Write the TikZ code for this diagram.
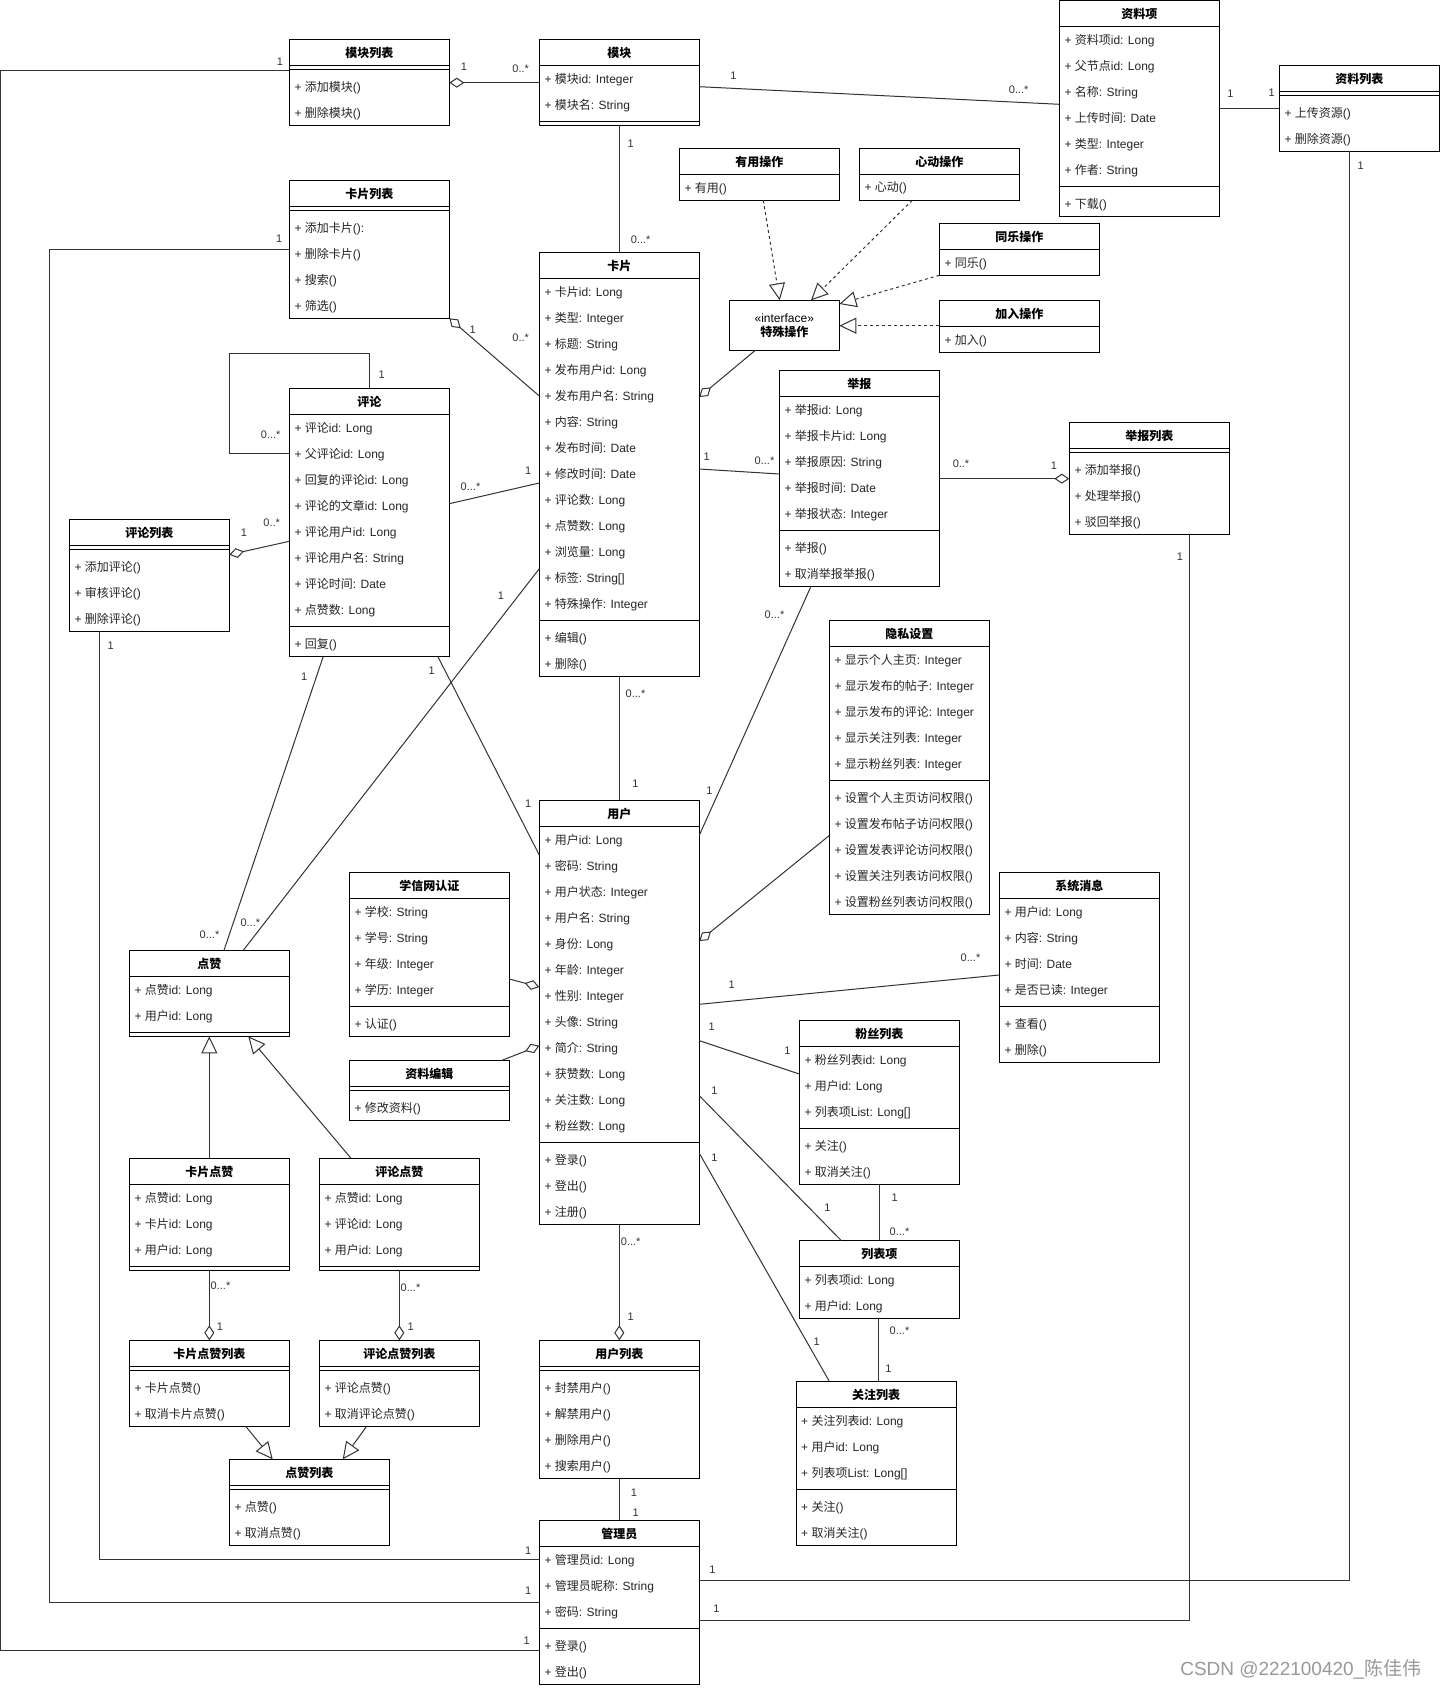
\documentclass[tikz,border=0pt]{standalone}
\usepackage{fontspec}
\setmainfont{Liberation Sans}
\newfontfamily\cjkfam{Noto Sans CJK SC}
\usetikzlibrary{arrows.meta,calc}
\XeTeXinterchartokenstate=1
\newXeTeXintercharclass\CJKcls
\newcount\cjkc
\def\setcjkrange#1#2{\cjkc=#1\relax\loop\XeTeXcharclass\cjkc=\CJKcls\relax\ifnum\cjkc<#2\relax\advance\cjkc by 1\relax\repeat}
\setcjkrange{"3000}{"303F}
\setcjkrange{"4E00}{"9FFF}
\setcjkrange{"FF00}{"FFEF}
\XeTeXinterchartoks 0 \CJKcls={\cjkfam}
\XeTeXinterchartoks 4095 \CJKcls={\cjkfam}
\XeTeXinterchartoks \CJKcls 0={\rmfamily}
\XeTeXinterchartoks \CJKcls 4095={\rmfamily}

\newcommand\cntlist[2]{\def\tmpl{#1}\ifx\tmpl\empty\gdef#2{0}\else\foreach \q [count=\qi] in {#1} {\xdef#2{\qi}}\fi}

\tikzset{
 umlbox/.style={draw, line width=1pt, fill=white, minimum width=160pt, inner sep=0pt, outer sep=0pt},
 boxline/.style={line width=1pt},
 umltitle/.style={font=\bfseries\fontsize{12}{14}\selectfont, inner sep=0pt},
 umlrow/.style={anchor=west, font=\fontsize{12}{14}\selectfont, inner sep=0pt, text=black!85},
 conn/.style={line width=1pt, draw=black!80},
 agg/.style={conn, -{Diamond[open, length=15pt, width=10pt]}},
 gen/.style={conn, -{Triangle[open, length=17pt, width=16pt]}},
 real/.style={conn, dash pattern=on 3pt off 3pt, -{Triangle[open, length=17pt, width=16pt]}},
 lbl/.style={font=\fontsize{11}{13}\selectfont, inner sep=0pt, text=black!80},
}

\newcommand\umlclass[7]{%
  \cntlist{#5}{\na}\cntlist{#6}{\nm}%
  \pgfmathsetmacro\hh{26+26*\na+8*#7+26*\nm}%
  \node[umlbox, minimum height=\hh pt, anchor=north west] (#1) at (#2,#3) {};
  \node[umltitle] (#1-t) at ($(#1.north)+(0,14)$) {#4};
  \draw[boxline] ($(#1.north west)+(0,26)$) -- ($(#1.north east)+(0,26)$);
  \ifnum#7=1\relax
    \pgfmathsetmacro\sy{26+26*\na+4}%
    \draw[boxline] ($(#1.north west)+(0,\sy)$) -- ($(#1.north east)+(0,\sy)$);
  \fi
  \ifnum\na>0\relax
   \foreach \itm [count=\ii] in {#5} {\node[umlrow] (#1-a\ii) at ($(#1.north west)+(5,26*\ii+14)$) {+ \itm};}%
  \fi
  \ifnum\nm>0\relax
   \pgfmathsetmacro\my{26+26*\na+8*#7}%
   \foreach \itm [count=\ii] in {#6} {\node[umlrow] (#1-m\ii) at ($(#1.north west)+(5,\my+26*\ii-12)$) {+ \itm};}%
  \fi
}
\newcount\lblc
\newcommand\lbl[3]{\global\advance\lblc by 1\relax\node[lbl] (lbl\the\lblc) at (#1,#2) {#3};}

\begin{document}
\begin{tikzpicture}[x=1pt,y=-1pt]
\fill[white] (0,0) rectangle (1440,1688);
\useasboundingbox (0,0) rectangle (1440,1688);

\umlclass{mlist}{289.3}{39.3}{模块列表}{}{添加模块(),删除模块()}{1}
\umlclass{module}{539.3}{39.3}{模块}{模块id: Integer,模块名: String}{}{1}
\umlclass{item}{1059.3}{0.3}{资料项}{资料项id: Long,父节点id: Long,名称: String,上传时间: Date,类型: Integer,作者: String}{下载()}{1}
\umlclass{rlist}{1279.3}{65.3}{资料列表}{}{上传资源(),删除资源()}{1}
\umlclass{clist}{289.3}{180.3}{卡片列表}{}{添加卡片():,删除卡片(),搜索(),筛选()}{1}
\umlclass{card}{539.3}{252.3}{卡片}{卡片id: Long,类型: Integer,标题: String,发布用户id: Long,发布用户名: String,内容: String,发布时间: Date,修改时间: Date,评论数: Long,点赞数: Long,浏览量: Long,标签: String[],特殊操作: Integer}{编辑(),删除()}{1}
\umlclass{useful}{679.3}{148.3}{有用操作}{有用()}{}{0}
\umlclass{heart}{859.3}{148.3}{心动操作}{心动()}{}{0}
\umlclass{joy}{939.3}{223.3}{同乐操作}{同乐()}{}{0}
\umlclass{joinop}{939.3}{300.3}{加入操作}{加入()}{}{0}
\node[draw, line width=1pt, fill=white, minimum width=110pt, minimum height=50pt, inner sep=0pt, outer sep=0pt, anchor=north west, align=center, font=\fontsize{12}{14}\selectfont] (iface) at (729.3,300.3) {«interface»\\\textbf{特殊操作}};
\umlclass{comment}{289.3}{388.3}{评论}{评论id: Long,父评论id: Long,回复的评论id: Long,评论的文章id: Long,评论用户id: Long,评论用户名: String,评论时间: Date,点赞数: Long}{回复()}{1}
\umlclass{report}{779.3}{370.3}{举报}{举报id: Long,举报卡片id: Long,举报原因: String,举报时间: Date,举报状态: Integer}{举报(),取消举报举报()}{1}
\umlclass{replist}{1069.3}{422.3}{举报列表}{}{添加举报(),处理举报(),驳回举报()}{1}
\umlclass{cmtlist}{69.3}{519.3}{评论列表}{}{添加评论(),审核评论(),删除评论()}{1}
\umlclass{privacy}{829.3}{620.3}{隐私设置}{显示个人主页: Integer,显示发布的帖子: Integer,显示发布的评论: Integer,显示关注列表: Integer,显示粉丝列表: Integer}{设置个人主页访问权限(),设置发布帖子访问权限(),设置发表评论访问权限(),设置关注列表访问权限(),设置粉丝列表访问权限()}{1}
\umlclass{user}{539.3}{800.3}{用户}{用户id: Long,密码: String,用户状态: Integer,用户名: String,身份: Long,年龄: Integer,性别: Integer,头像: String,简介: String,获赞数: Long,关注数: Long,粉丝数: Long}{登录(),登出(),注册()}{1}
\umlclass{like}{129.3}{950.3}{点赞}{点赞id: Long,用户id: Long}{}{1}
\umlclass{xuexin}{349.3}{872.3}{学信网认证}{学校: String,学号: String,年级: Integer,学历: Integer}{认证()}{1}
\umlclass{edit}{349.3}{1060.3}{资料编辑}{}{修改资料()}{1}
\umlclass{sysmsg}{999.3}{872.3}{系统消息}{用户id: Long,内容: String,时间: Date,是否已读: Integer}{查看(),删除()}{1}
\umlclass{fans}{799.3}{1020.3}{粉丝列表}{粉丝列表id: Long,用户id: Long,列表项List: Long[]}{关注(),取消关注()}{1}
\umlclass{cardlike}{129.3}{1158.3}{卡片点赞}{点赞id: Long,卡片id: Long,用户id: Long}{}{1}
\umlclass{cmtlike}{319.3}{1158.3}{评论点赞}{点赞id: Long,评论id: Long,用户id: Long}{}{1}
\umlclass{listitem}{799.3}{1240.3}{列表项}{列表项id: Long,用户id: Long}{}{0}
\umlclass{follow}{796}{1381.3}{关注列表}{关注列表id: Long,用户id: Long,列表项List: Long[]}{关注(),取消关注()}{1}
\umlclass{ulist}{539.3}{1340.3}{用户列表}{}{封禁用户(),解禁用户(),删除用户(),搜索用户()}{1}
\umlclass{cardlikelist}{129.3}{1340.3}{卡片点赞列表}{}{卡片点赞(),取消卡片点赞()}{1}
\umlclass{cmtlikelist}{319.3}{1340.3}{评论点赞列表}{}{评论点赞(),取消评论点赞()}{1}
\umlclass{likelist}{229.3}{1459.3}{点赞列表}{}{点赞(),取消点赞()}{1}
\umlclass{admin}{539.3}{1520.3}{管理员}{管理员id: Long,管理员昵称: String,密码: String}{登录(),登出()}{1}

% connectors
\draw[agg] (module.west |- 0,82.7) -- (mlist.east |- 0,82.7);
\draw[conn] (module.east |- 0,86.7) -- (item.west |- 0,104.3);
\draw[conn] (module.south) -- (card.north);
\draw[conn] (item.east |- 0,108.3) -- (rlist.west |- 0,108.3);
\draw[agg] (card.west |- 0,396) -- (clist.south east);
\draw[conn] (comment.north -| 369.3,0) -- (369.3,353.3) -- (229.3,353.3) -- (229.3,453) -- (comment.west |- 0,453);
\draw[agg] (comment.west |- 0,541.3) -- (cmtlist.east |- 0,554.7);
\draw[conn] (comment.east |- 0,503.7) -- (card.west |- 0,483);
\draw[agg] (iface.south -| 755.3,0) -- (card.east |- 0,397);
\draw[real] (useful.south -| 763.3,0) -- (iface.north -| 779.7,0);
\draw[real] (heart.south -| 912.3,0) -- (iface.north -| 811,0);
\draw[real] (joy.south west) -- (iface.east |- 0,304);
\draw[real] (joinop.west |- 0,325.7) -- (iface.east |- 0,325.7);
\draw[conn] (card.east |- 0,469) -- (report.west |- 0,474);
\draw[agg] (report.east |- 0,478.7) -- (replist.west |- 0,478.7);
\draw[conn] (report.south -| 811,0) -- (user.east |- 0,835.3);
\draw[conn] (card.south) -- (user.north);
\draw[conn] (comment.south -| 323.3,0) -- (like.north -| 224,0);
\draw[conn] (card.west |- 0,568.7) -- (like.north -| 243.3,0);
\draw[conn] (comment.south -| 437.7,0) -- (user.west |- 0,855);
\draw[agg] (privacy.west |- 0,835.5) -- (user.east |- 0,941);
\draw[agg] (xuexin.east |- 0,979) -- (user.west |- 0,987);
\draw[agg] (edit.north -| 502,0) -- (user.west |- 0,1045.7);
\draw[conn] (user.east |- 0,1004.3) -- (sysmsg.west |- 0,975);
\draw[conn] (user.east |- 0,1040.7) -- (fans.west |- 0,1074);
\draw[conn] (user.east |- 0,1095.7) -- (listitem.north -| 841,0);
\draw[conn] (user.east |- 0,1153.3) -- (follow.north -| 829.3,0);
\draw[conn] (fans.south) -- (listitem.north);
\draw[conn] (listitem.south -| 878.3,0) -- (follow.north -| 878.3,0);
\draw[agg] (user.south) -- (ulist.north);
\draw[conn] (ulist.south) -- (admin.north);
\draw[conn] (cmtlist.south -| 99.3,0) |- (admin.west |- 0,1559.3);
\draw[conn] (clist.west |- 0,249.3) -- (49.3,249.3) |- (admin.west |- 0,1602.3);
\draw[conn] (mlist.west |- 0,70.3) -- (0.7,70.3) |- (admin.west |- 0,1650.3);
\draw[conn] (rlist.south -| 1349.3,0) |- (admin.east |- 0,1580);
\draw[conn] (replist.south -| 1189.3,0) |- (admin.east |- 0,1620.3);
\draw[gen] (cardlike.north) -- (like.south);
\draw[gen] (cmtlike.north -| 351,0) -- (like.south -| 248.3,0);
\draw[agg] (cardlike.south) -- (cardlikelist.north);
\draw[agg] (cmtlike.south) -- (cmtlikelist.north);
\draw[gen] (cardlikelist.south -| 245.7,0) -- (likelist.north -| 272.7,0);
\draw[gen] (cmtlikelist.south -| 366.7,0) -- (likelist.north -| 342.7,0);

% multiplicity labels
\lbl{464}{66.3}{1} \lbl{520.7}{69}{0..*}
\lbl{733.3}{75.3}{1} \lbl{1018.7}{90}{0...*}
\lbl{630.7}{143.3}{1} \lbl{640.7}{240}{0...*}
\lbl{1230.3}{93.3}{1} \lbl{1271.7}{92.3}{1}
\lbl{472.7}{329.3}{1} \lbl{520.7}{337.7}{0..*}
\lbl{381.7}{374.3}{1} \lbl{270.7}{434.3}{0...*}
\lbl{244}{533}{1} \lbl{271.7}{523}{0..*}
\lbl{470.5}{487}{0...*} \lbl{528.3}{470.3}{1}
\lbl{706.7}{457}{1} \lbl{764.5}{460.3}{0...*}
\lbl{961}{464}{0..*} \lbl{1054}{466}{1}
\lbl{774.5}{614.3}{0...*} \lbl{709.3}{790.3}{1}
\lbl{635.5}{693.3}{0...*} \lbl{635.3}{784}{1}
\lbl{304.3}{676.3}{1} \lbl{209.5}{935}{0...*}
\lbl{501}{595.3}{1} \lbl{250.3}{922.7}{0...*}
\lbl{431.7}{670.3}{1} \lbl{528.3}{804}{1}
\lbl{731.7}{985}{1} \lbl{970.5}{957.3}{0...*}
\lbl{711.7}{1027}{1} \lbl{787.3}{1050.3}{1}
\lbl{714.3}{1091}{1} \lbl{827.3}{1208}{1}
\lbl{714.3}{1158}{1} \lbl{816.7}{1342}{1}
\lbl{894.7}{1198}{1} \lbl{899.5}{1231.7}{0...*}
\lbl{899.5}{1331}{0...*} \lbl{888.3}{1369}{1}
\lbl{630.7}{1241.3}{0...*} \lbl{630.7}{1316.3}{1}
\lbl{634}{1492.3}{1} \lbl{635.7}{1512.3}{1}
\lbl{110.7}{646}{1} \lbl{528.3}{1551}{1}
\lbl{279.3}{238.3}{1} \lbl{528.3}{1591}{1}
\lbl{280}{62}{1} \lbl{526.7}{1641}{1}
\lbl{1360.7}{166}{1} \lbl{712.3}{1569.3}{1}
\lbl{1180}{556.3}{1} \lbl{716.3}{1609}{1}
\lbl{220.5}{1286}{0...*} \lbl{220}{1327}{1}
\lbl{410.5}{1288}{0...*} \lbl{410.7}{1327}{1}

\node[font=\fontsize{19}{22}\selectfont, text=black!40, inner sep=0pt] (wm) at (1300.8,1669.3) {CSDN @222100420\_陈佳伟};
\end{tikzpicture}
\end{document}
